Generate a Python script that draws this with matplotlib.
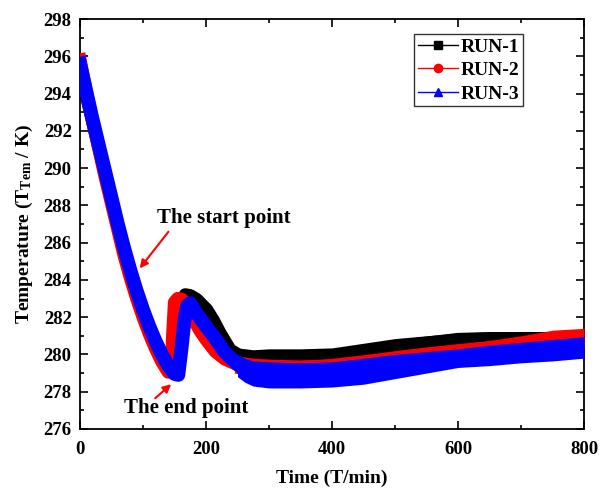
import matplotlib
matplotlib.use("Agg")
import matplotlib.pyplot as plt
from matplotlib.lines import Line2D
from matplotlib.ticker import MultipleLocator

plt.rcParams["font.family"] = ["Liberation Serif", "DejaVu Serif"]
plt.rcParams["font.weight"] = "bold"
plt.rcParams["mathtext.fontset"] = "custom"
plt.rcParams["mathtext.rm"] = "Liberation Serif:bold"
plt.rcParams["mathtext.it"] = "Liberation Serif:bold"
plt.rcParams["mathtext.bf"] = "Liberation Serif:bold"

# RUN-1 (black) centre line
t_run1 = [0, 10, 20, 30, 40, 50, 60, 70, 80, 90, 100, 110, 120, 130, 140, 150, 155,
          158, 162, 167, 175, 185, 201, 212, 222, 238, 254, 281, 300, 350, 400, 450,
          500, 550, 600, 650, 700, 750, 785]
T_run1 = [295.2, 293.9, 292.5, 291.1, 289.7, 288.3, 286.9, 285.6, 284.4, 283.3, 282.3,
          281.4, 280.6, 280.0, 279.6, 279.4, 279.4, 280.5, 282.5, 283.2, 283.15, 282.95,
          282.4, 281.8, 281.15, 280.25, 279.9, 279.75, 279.8, 279.8, 279.85, 280.1,
          280.4, 280.6, 280.8, 280.85, 280.85, 280.85, 280.9]

# RUN-2 (red) centre line
t_run2 = [0, 10, 20, 30, 40, 50, 60, 70, 80, 90, 100, 110, 120, 130, 140, 145, 147,
          150, 155, 162, 170, 180, 190, 200, 215, 230, 250, 300, 350, 400, 450, 500,
          550, 600, 650, 700, 750, 800]
T_run2 = [295.8, 294.1, 292.5, 291.0, 289.5, 288.1, 286.7, 285.3, 284.1, 283.0, 282.0,
          281.1, 280.3, 279.6, 279.05, 279.2, 281.0, 282.8, 283.0, 282.95, 282.6, 281.9,
          281.3, 280.8, 280.15, 279.75, 279.45, 279.3, 279.3, 279.4, 279.6, 279.8,
          280.0, 280.2, 280.35, 280.5, 280.7, 280.9]

# RUN-3 (blue) centre line
t_run3 = [0, 10, 20, 30, 40, 50, 60, 70, 80, 90, 100, 110, 120, 130, 140, 150, 156,
          161, 166, 170, 175, 185, 196, 207, 217, 228, 238, 249, 260, 280, 300, 350,
          400, 450, 500, 550, 600, 650, 700, 750, 800]
T_run3 = [295.6, 294.1, 292.6, 291.2, 289.8, 288.4, 287.0, 285.7, 284.5, 283.4, 282.4,
          281.5, 280.7, 280.0, 279.4, 278.95, 278.9, 280.3, 281.9, 282.6, 282.75, 282.2,
          281.7, 281.2, 280.75, 280.2, 279.85, 279.5, 279.2, 279.0, 278.95, 278.95,
          279.0, 279.2, 279.45, 279.65, 279.8, 279.95, 280.1, 280.2, 280.35]

# scatter envelopes of the slow-drift part (lower / upper edge of each band)
t_env1 = [250, 275, 300, 350, 400, 450, 500, 550, 600, 650, 700, 750, 785]
lo_run1 = [279.5, 279.4, 279.4, 279.4, 279.45, 279.7, 279.95, 280.15, 280.3, 280.35,
           280.35, 280.35, 280.4]
hi_run1 = [280.35, 280.25, 280.3, 280.3, 280.35, 280.6, 280.85, 281.0, 281.15, 281.2,
           281.2, 281.2, 281.15]

t_env2 = [245, 275, 300, 350, 400, 450, 500, 550, 600, 650, 700, 750, 800]
lo_run2 = [279.0, 278.8, 278.8, 278.8, 278.85, 279.05, 279.3, 279.5, 279.65, 279.85,
           280.05, 280.3, 280.4]
hi_run2 = [279.95, 279.8, 279.75, 279.7, 279.75, 279.95, 280.2, 280.4, 280.55, 280.75,
           281.0, 281.3, 281.4]

t_env3 = [250, 262, 275, 300, 350, 400, 450, 500, 550, 600, 650, 700, 750, 800]
lo_run3 = [278.8, 278.5, 278.3, 278.2, 278.2, 278.25, 278.4, 278.7, 279.0, 279.3,
           279.4, 279.55, 279.65, 279.8]
hi_run3 = [280.0, 279.8, 279.65, 279.6, 279.55, 279.6, 279.8, 280.0, 280.15, 280.3,
           280.5, 280.65, 280.8, 280.95]

fig = plt.figure(figsize=(5.99, 4.88), dpi=100)
ax = fig.add_axes([0.1336, 0.121, 0.8414, 0.84])

ax.plot(t_run1, T_run1, color="black", lw=9.5, solid_joinstyle="round", zorder=2)
ax.fill_between(t_env1, lo_run1, hi_run1, color="black", lw=0, zorder=2)
ax.plot(t_run2, T_run2, color="red", lw=9.5, solid_joinstyle="round", zorder=3)
ax.fill_between(t_env2, lo_run2, hi_run2, color="red", lw=0, zorder=3)
ax.plot(t_run3, T_run3, color="blue", lw=10, solid_joinstyle="round", zorder=4)
ax.fill_between(t_env3, lo_run3, hi_run3, color="blue", lw=0, zorder=4)

ax.set_xlim(0, 800)
ax.set_ylim(276, 298)
ax.xaxis.set_major_locator(MultipleLocator(200))
ax.xaxis.set_minor_locator(MultipleLocator(100))
ax.yaxis.set_major_locator(MultipleLocator(2))
ax.yaxis.set_minor_locator(MultipleLocator(1))
ax.tick_params(which="both", direction="in", top=True, right=True, width=1.2,
               labelsize=13.5)
ax.tick_params(which="major", length=6)
ax.tick_params(which="minor", length=3)
ax.tick_params(axis="x", which="major", pad=9)
ax.tick_params(axis="y", which="major", pad=6)
for s in ax.spines.values():
    s.set_linewidth(1.3)

ax.set_xlabel("Time (T/min)", fontsize=14, fontweight="bold", labelpad=8)
ax.set_ylabel("Temperature (T$_{Tem}$ / K)", fontsize=14, fontweight="bold",
              labelpad=6)

# annotations
ax.annotate("", xy=(92, 284.5), xytext=(143, 286.7),
            arrowprops=dict(arrowstyle="-|>", color="red", lw=1.5, mutation_scale=12))
ax.text(122, 287.3, "The start point", fontsize=15, fontweight="bold",
        va="center", ha="left", zorder=6)
ax.annotate("", xy=(148, 278.5), xytext=(116, 277.55),
            arrowprops=dict(arrowstyle="-|>", color="red", lw=1.5, mutation_scale=12))
ax.text(70, 277.1, "The end point", fontsize=15, fontweight="bold",
        va="center", ha="left", zorder=6)

handles = [
    Line2D([], [], color="black", marker="s", lw=1, ms=6),
    Line2D([], [], color="red", marker="o", lw=1, ms=6),
    Line2D([], [], color="blue", marker="^", lw=1, ms=6),
]
leg = ax.legend(handles, ["RUN-1", "RUN-2", "RUN-3"], loc="upper right",
                bbox_to_anchor=(0.879, 0.963), fancybox=False, edgecolor="black",
                prop={"weight": "bold", "size": 14}, handlelength=2.1,
                handletextpad=0.1, borderpad=0.2, labelspacing=0.3,
                borderaxespad=0)
leg.get_frame().set_linewidth(1.0)

fig.savefig("out.png", dpi=100)
